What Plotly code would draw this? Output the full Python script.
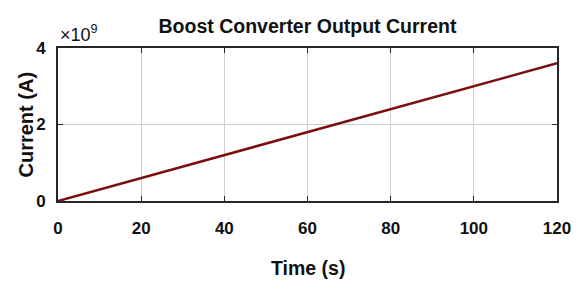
import plotly.graph_objects as go

time_s = [0, 20, 40, 60, 80, 100, 120]
current_a = [0.0, 0.6e9, 1.2e9, 1.8e9, 2.4e9, 3.0e9, 3.6e9]
x_ticks = [0, 20, 40, 60, 80, 100, 120]
y_ticks = [0, 2e9, 4e9]
y_tick_labels = ["0", "2", "4"]

font = "Liberation Sans, Arial"

fig = go.Figure()
fig.add_trace(go.Scatter(x=time_s, y=current_a, mode="lines",
                         line=dict(color="#7a0e0e", width=2.5), showlegend=False))

axis_common = dict(showgrid=True, gridcolor="#cfcfcf", gridwidth=1,
                   showline=True, linecolor="#262626", linewidth=2, mirror="ticks",
                   ticks="inside", ticklen=5, tickcolor="#262626", zeroline=False,
                   automargin=False,
                   tickfont=dict(family=font, size=17, color="#111111"))

# page body has an 8px margin, so the figure is sized to fit the 580x282 window
fig.update_layout(
    width=572, height=274,
    margin=dict(l=50, r=23, t=40, b=81),
    paper_bgcolor="white", plot_bgcolor="white",
    title=dict(text="<b>Boost Converter Output Current</b>", xref="paper", x=0.5,
               xanchor="center", y=1 - 18 / 274, yanchor="middle",
               font=dict(family=font, size=19.5, color="#111111")),
    xaxis=dict(range=[0, 120], tickvals=x_ticks,
               ticktext=[f"<b>{v}</b>" for v in x_ticks],
               ticklabelstandoff=11,
               **axis_common),
    yaxis=dict(range=[0, 4e9], tickvals=y_ticks,
               ticktext=[f"<b>{t}</b>" for t in y_tick_labels],
               ticklabelstandoff=7,
               **axis_common),
    annotations=[
        dict(text="×10<sup>9</sup>", xref="paper", yref="paper",
             x=0.0, y=1.0, xanchor="left", yanchor="bottom", yshift=1,
             showarrow=False, font=dict(family=font, size=18, color="#111111")),
        dict(text="<b>Time (s)</b>", xref="paper", yref="paper",
             x=0.5, y=0, xanchor="center", yanchor="middle", yshift=-67,
             showarrow=False, font=dict(family=font, size=19.5, color="#111111")),
        dict(text="<b>Current (A)</b>", xref="paper", yref="paper",
             x=0, y=0.5, xanchor="center", yanchor="middle", xshift=-33, textangle=-90,
             showarrow=False, font=dict(family=font, size=20, color="#111111")),
    ],
)

fig.write_html("out.html")
